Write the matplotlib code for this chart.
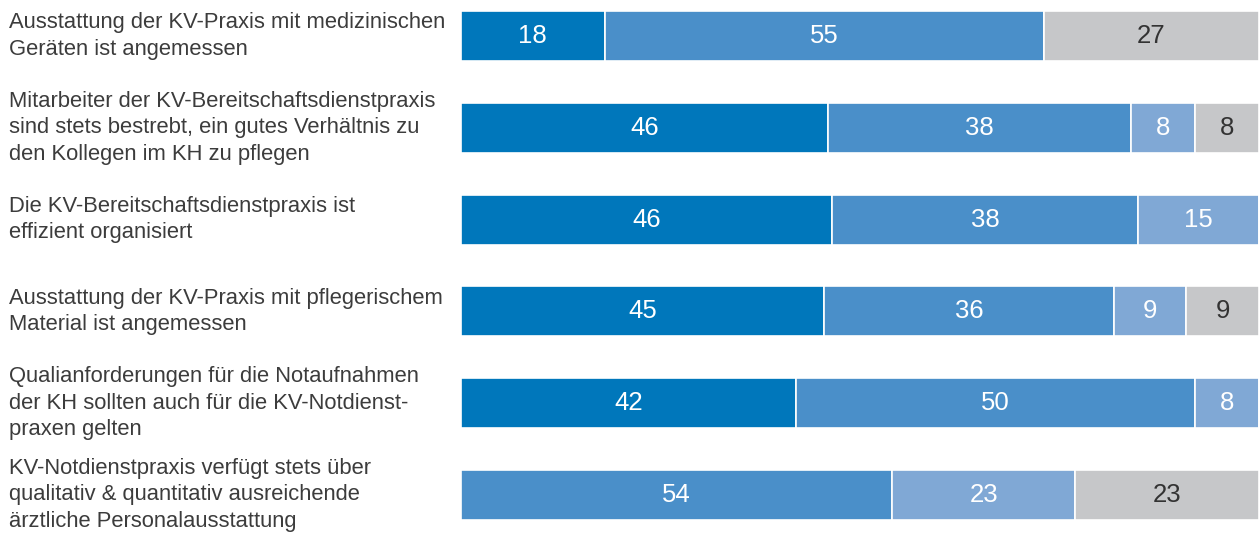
import numpy as np
import matplotlib.pyplot as plt
from matplotlib.transforms import blended_transform_factory

# ------------------------------------------------------
# Data (shares in %, as printed; bars are scaled to the row total)
statements = [
    "Ausstattung der KV-Praxis mit medizinischen\nGeräten ist angemessen",
    "Mitarbeiter der KV-Bereitschaftsdienstpraxis\nsind stets bestrebt, ein gutes Verhältnis zu\nden Kollegen im KH zu pflegen",
    "Die KV-Bereitschaftsdienstpraxis ist\neffizient organisiert",
    "Ausstattung der KV-Praxis mit pflegerischem\nMaterial ist angemessen",
    "Qualianforderungen für die Notaufnahmen\nder KH sollten auch für die KV-Notdienst-\npraxen gelten",
    "KV-Notdienstpraxis verfügt stets über\nqualitativ & quantitativ ausreichende\närztliche Personalausstattung",
]
seg_dark = [18, 46, 46, 45, 42, 0]
seg_mid = [55, 38, 38, 36, 50, 54]
seg_light = [0, 8, 15, 9, 8, 23]
seg_gray = [27, 8, 0, 9, 0, 23]
# ------------------------------------------------------

plt.rcParams['font.family'] = ['Liberation Sans', 'DejaVu Sans']

series = [seg_dark, seg_mid, seg_light, seg_gray]
colors = ['#0077bb', '#4a8fc9', '#80a8d5', '#c6c7c9']
text_colors = ['white', 'white', 'white', '#333333']

fig = plt.figure(figsize=(12.59, 5.34), dpi=100)
ax = fig.add_axes([461 / 1259, 0, 1 - 461 / 1259, 1])

y = np.arange(len(statements))
totals = np.sum(np.array(series, dtype=float), axis=0)
left = np.zeros(len(statements))
for vals, col, tcol in zip(series, colors, text_colors):
    vals = np.array(vals, dtype=float)
    widths = vals / totals * 100
    ax.barh(y, widths, left=left, height=0.545, color=col,
            edgecolor='white', linewidth=1.2)
    for yi, l, w, v in zip(y, left, widths, vals):
        if v > 0:
            ax.text(l + w / 2, yi, f"{int(v)}", ha='center', va='center',
                    color=tcol, fontsize=18.5)
    left += widths

ax.set_xlim(0, 100)
ax.set_ylim(5.425, -0.392)
ax.axis('off')

trans = blended_transform_factory(fig.transFigure, ax.transData)
for yi, s in zip(y, statements):
    ax.text(9 / 1259, yi, s, transform=trans, ha='left', va='center',
            fontsize=15.8, color='#3c3c3c', linespacing=1.33)

fig.savefig('out.png', dpi=100)
